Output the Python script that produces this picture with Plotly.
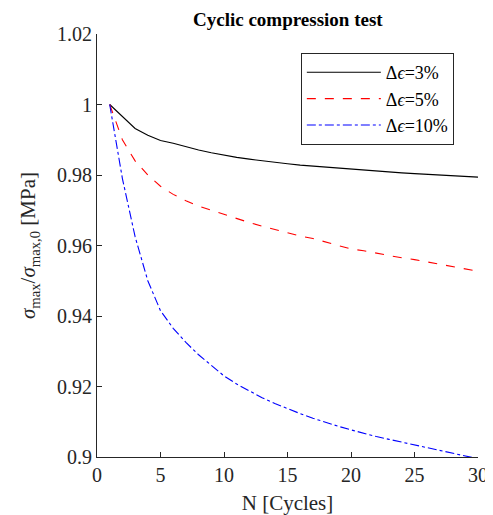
import plotly.graph_objects as go

cycles = list(range(1, 31))
strain_3 = [1.0, 0.9965, 0.9932, 0.9913, 0.9898, 0.9890, 0.9880, 0.9871, 0.9863, 0.9856,
            0.9850, 0.9845, 0.9840, 0.9836, 0.9832, 0.9828, 0.9825, 0.9822, 0.9819, 0.9816,
            0.9813, 0.9811, 0.9808, 0.9806, 0.9804, 0.9802, 0.9800, 0.9798, 0.9796, 0.9794]
strain_5 = [1.0, 0.9900, 0.9840, 0.9800, 0.9768, 0.9745, 0.9727, 0.9712, 0.9700, 0.9688,
            0.9676, 0.9665, 0.9655, 0.9645, 0.9635, 0.9627, 0.9620, 0.9610, 0.9600, 0.9590,
            0.9585, 0.9578, 0.9570, 0.9565, 0.9560, 0.9553, 0.9546, 0.9540, 0.9533, 0.9527]
strain_10 = [1.0, 0.9790, 0.9625, 0.9500, 0.9415, 0.9365, 0.9325, 0.9290, 0.9260, 0.9230,
             0.9207, 0.9187, 0.9168, 0.9152, 0.9137, 0.9123, 0.9110, 0.9098, 0.9087, 0.9077,
             0.9067, 0.9058, 0.9050, 0.9042, 0.9034, 0.9026, 0.9018, 0.9010, 0.9002, 0.8995]

series_names = ["Δ<i>ϵ</i>=3%", "Δ<i>ϵ</i>=5%", "Δ<i>ϵ</i>=10%"]
x_ticks = [0, 5, 10, 15, 20, 25, 30]
y_ticks = [0.9, 0.92, 0.94, 0.96, 0.98, 1.0, 1.02]
y_tick_labels = ["0.9", "0.92", "0.94", "0.96", "0.98", "1", "1.02"]

font = "Liberation Serif, Times New Roman, DejaVu Serif, serif"
axis_col = "#262626"

fig = go.Figure()
fig.add_trace(go.Scatter(x=cycles, y=strain_3, mode="lines", name=series_names[0],
                         line=dict(color="black", width=1.1, dash="solid")))
fig.add_trace(go.Scatter(x=cycles, y=strain_5, mode="lines", name=series_names[1],
                         line=dict(color="red", width=1.1, dash="dash")))
fig.add_trace(go.Scatter(x=cycles, y=strain_10, mode="lines", name=series_names[2],
                         line=dict(color="blue", width=1.1, dash="dashdot")))

# page body has an 8px margin; the figure is offset by it
W, H = 485, 507
fig.update_layout(
    width=W, height=H,
    margin=dict(l=89, r=15, t=26, b=58, autoexpand=False),
    plot_bgcolor="white", paper_bgcolor="white",
    font=dict(family=font, size=20, color=axis_col),
    title=dict(text="<b>Cyclic compression test</b>", x=0.577, xanchor="center",
               xref="container", yref="container",
               y=1 - 11 / H, yanchor="middle", font=dict(family=font, size=19, color="black")),
    legend=dict(x=0.535, y=0.955, xanchor="left", yanchor="top",
                bgcolor="white", bordercolor=axis_col, borderwidth=1,
                font=dict(family=font, size=18, color="black"),
                itemwidth=74, tracegroupgap=0),
    showlegend=True,
)
fig.update_xaxes(range=[0, 30], tickvals=x_ticks, ticks="inside", ticklen=5,
                 tickcolor=axis_col, showline=True, linecolor=axis_col, linewidth=1,
                 showgrid=False, zeroline=False, mirror=False, automargin=False,
                 title=dict(text="N [Cycles]", font=dict(family=font, size=21)))
fig.update_yaxes(range=[0.9, 1.02], tickvals=y_ticks, ticktext=y_tick_labels,
                 ticks="inside", ticklen=5, tickcolor=axis_col,
                 showline=True, linecolor=axis_col, linewidth=1,
                 showgrid=False, zeroline=False, mirror=False, automargin=False,
                 title=dict(text="<i>σ</i><sub>max</sub>/<i>σ</i><sub>max,0</sub> [MPa]",
                            font=dict(family=font, size=21)))

fig.write_html("out.html")
